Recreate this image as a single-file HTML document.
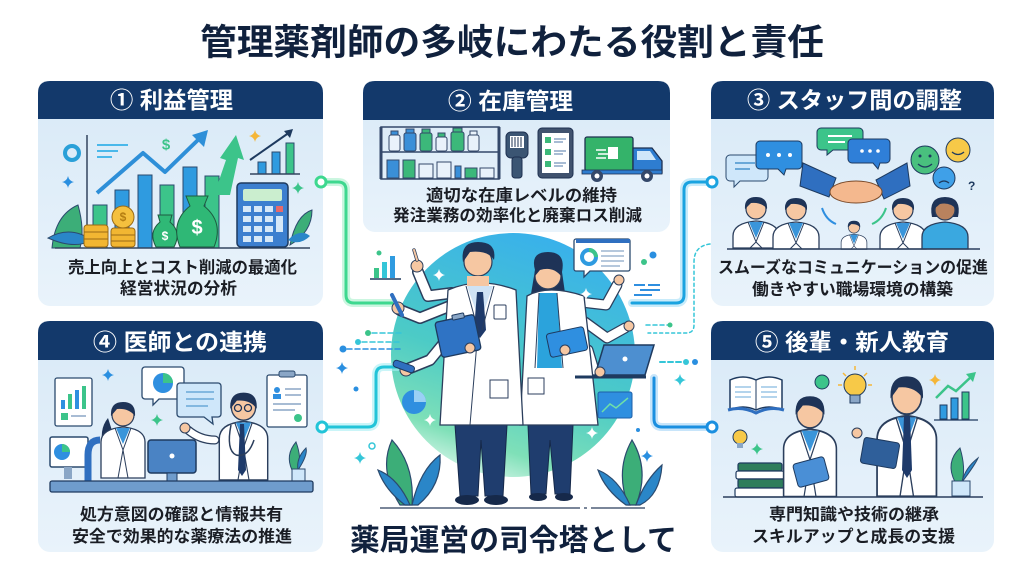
<!DOCTYPE html>
<html><head><meta charset="utf-8"><style>
html,body{margin:0;padding:0;background:#fff;}
svg{display:block}
text{font-family:"Liberation Sans","Noto Sans CJK JP",sans-serif;font-weight:bold}
</style></head><body>
<svg width="1024" height="572" viewBox="0 0 1024 572" xmlns="http://www.w3.org/2000/svg">
<defs>
 <linearGradient id="pb" x1="0" y1="0" x2="0" y2="1"><stop offset="0" stop-color="#d8e9f7"/><stop offset="1" stop-color="#e9f3fb"/></linearGradient>
 <linearGradient id="cg" x1="0.65" y1="0" x2="0.3" y2="1"><stop offset="0" stop-color="#38b0ec"/><stop offset="0.55" stop-color="#4ccbc6"/><stop offset="0.85" stop-color="#7fe0b8"/><stop offset="1" stop-color="#d8f6ea"/></linearGradient>
 <path id="st" d="M0-6Q1-1 6 0Q1 1 0 6Q-1 1-6 0Q-1-1 0-6Z"/>
 <g id="bust">
  <path d="M2 56 V44 Q2 31 25 29 Q48 31 48 44 V56 Z" fill="#fff" stroke="#2b3e5c" stroke-width="1.3"/>
  <path d="M18 30 L25 46 L32 30 Z" fill="#3a95da"/>
  <path d="M17 30 L25 50 L19 56 M33 30 L25 50 L31 56" fill="none" stroke="#2b3e5c" stroke-width="1"/>
  <circle cx="25" cy="17" r="10" fill="#f6c7a2" stroke="#2b3e5c" stroke-width="1.2"/>
  <path d="M14 17 Q13 5 25 5 Q37 5 36 17 Q31 10 20 11 Z" fill="#1e3357"/>
 </g>
 <g id="tall">
  <path d="M3 80 V44 Q3 31 25 29 Q47 31 47 44 V80 Z" fill="#fff" stroke="#2b3e5c" stroke-width="1.3"/>
  <path d="M18 30 L25 46 L32 30 Z" fill="#3a95da"/>
  <path d="M17 30 L25 52 L20 80 M33 30 L25 52 L30 80" fill="none" stroke="#2b3e5c" stroke-width="1"/>
  <circle cx="25" cy="17" r="11" fill="#f6c7a2" stroke="#2b3e5c" stroke-width="1.2"/>
  <path d="M13 18 Q12 4 25 4 Q38 4 37 18 Q31 10 19 11 Z" fill="#1e3357"/>
 </g>
</defs>

<!-- Title -->
<text x="512" y="42" font-size="36" text-anchor="middle" dominant-baseline="central" fill="#10213d" textLength="624" lengthAdjust="spacingAndGlyphs">管理薬剤師の多岐にわたる役割と責任</text>

<!-- Panels -->
<rect x="38" y="81" width="285" height="225" rx="12" fill="url(#pb)"/>
<path d="M38 119V93Q38 81 50 81H311Q323 81 323 93V119Z" fill="#13396b"/>
<rect x="363" y="81" width="307" height="151" rx="12" fill="url(#pb)"/>
<path d="M363 120V93Q363 81 375 81H658Q670 81 670 93V120Z" fill="#13396b"/>
<rect x="711" y="81" width="283" height="225" rx="12" fill="url(#pb)"/>
<path d="M711 119V93Q711 81 723 81H982Q994 81 994 93V119Z" fill="#13396b"/>
<rect x="38" y="321" width="285" height="231" rx="12" fill="url(#pb)"/>
<path d="M38 360V333Q38 321 50 321H311Q323 321 323 333V360Z" fill="#13396b"/>
<rect x="711" y="321" width="283" height="231" rx="12" fill="url(#pb)"/>
<path d="M711 360V333Q711 321 723 321H982Q994 321 994 333V360Z" fill="#13396b"/>

<!-- Header texts -->
<g font-size="23" fill="#fff" text-anchor="middle" dominant-baseline="central">
 <text x="171.5" y="100" textLength="123" lengthAdjust="spacingAndGlyphs">① 利益管理</text>
 <text x="510.5" y="101" textLength="125" lengthAdjust="spacingAndGlyphs">② 在庫管理</text>
 <text x="854.5" y="100" textLength="215" lengthAdjust="spacingAndGlyphs">③ スタッフ間の調整</text>
 <text x="180" y="342" textLength="174" lengthAdjust="spacingAndGlyphs">④ 医師との連携</text>
 <text x="852" y="342" textLength="194" lengthAdjust="spacingAndGlyphs">⑤ 後輩・新人教育</text>
</g>

<!-- Body texts -->
<g font-size="16.5" fill="#1a1d24" text-anchor="middle" dominant-baseline="central">
 <text x="182.5" y="268" textLength="229" lengthAdjust="spacingAndGlyphs">売上向上とコスト削減の最適化</text>
 <text x="178.5" y="289" textLength="117" lengthAdjust="spacingAndGlyphs">経営状況の分析</text>
 <text x="521.5" y="196" textLength="191" lengthAdjust="spacingAndGlyphs">適切な在庫レベルの維持</text>
 <text x="517.5" y="216" textLength="249" lengthAdjust="spacingAndGlyphs">発注業務の効率化と廃棄ロス削減</text>
 <text x="853" y="268" textLength="270" lengthAdjust="spacingAndGlyphs">スムーズなコミュニケーションの促進</text>
 <text x="852.5" y="290" textLength="201" lengthAdjust="spacingAndGlyphs">働きやすい職場環境の構築</text>
 <text x="181.5" y="515" textLength="203" lengthAdjust="spacingAndGlyphs">処方意図の確認と情報共有</text>
 <text x="182" y="537" textLength="220" lengthAdjust="spacingAndGlyphs">安全で効果的な薬療法の推進</text>
 <text x="854" y="515" textLength="170" lengthAdjust="spacingAndGlyphs">専門知識や技術の継承</text>
 <text x="853.5" y="537" textLength="203" lengthAdjust="spacingAndGlyphs">スキルアップと成長の支援</text>
</g>

<!-- Center text -->
<text x="513.5" y="541" font-size="30" fill="#10213d" text-anchor="middle" dominant-baseline="central" textLength="327" lengthAdjust="spacingAndGlyphs">薬局運営の司令塔として</text>

<!-- ===== Panel 1 illustration ===== -->
<g stroke="#2b4a6e" stroke-width="1">
 <path d="M52 248 Q55 215 78 205 Q85 230 80 248Z" fill="#3cae78"/>
 <path d="M48 238 Q70 225 92 240 Q75 250 48 238Z" fill="#2a86c8"/>
 <rect x="93" y="205" width="14" height="43" fill="#3cc48a"/>
 <rect x="115" y="190" width="14" height="58" fill="#2f9be0"/>
 <rect x="138" y="175" width="14" height="73" fill="#2f9be0"/>
 <rect x="160" y="185" width="14" height="63" fill="#3cc48a"/>
 <rect x="183" y="167" width="14" height="81" fill="#2f9be0"/>
 <rect x="205" y="176" width="14" height="72" fill="#3cc48a"/>
</g>
<line x1="87" y1="135" x2="87" y2="248" stroke="#33455f" stroke-width="1.5"/>
<line x1="55" y1="248" x2="310" y2="248" stroke="#33455f" stroke-width="1.5"/>
<polyline points="97,193 143,153 165,172 200,138" fill="none" stroke="#2e8fd8" stroke-width="4" stroke-linejoin="round"/>
<polygon points="208,130 192,135 204,147" fill="#2e8fd8"/>
<polygon points="214,195 226,160 220,158 236,135 244,160 238,158 230,195" fill="#3cc48a"/>
<polyline points="250,160 290,132" fill="none" stroke="#1e3a5f" stroke-width="2"/>
<polygon points="293,129 284,131 290,138" fill="#1e3a5f"/>
<g fill="#2f9be0" stroke="#2b4a6e" stroke-width="1">
 <rect x="258" y="162" width="8" height="12"/><rect x="272" y="152" width="8" height="22" fill="#2f9be0"/><rect x="286" y="143" width="8" height="31" fill="#3cc48a"/>
</g>
<line x1="250" y1="174" x2="300" y2="174" stroke="#33455f" stroke-width="1.5"/>
<circle cx="72" cy="153" r="7" fill="none" stroke="#2aa0d8" stroke-width="4"/>
<line x1="97" y1="145" x2="128" y2="145" stroke="#4ab8ea" stroke-width="2"/>
<line x1="97" y1="151" x2="118" y2="151" stroke="#4ab8ea" stroke-width="2"/>
<line x1="97" y1="157" x2="112" y2="157" stroke="#4ab8ea" stroke-width="2"/>
<text x="166" y="145" font-size="15" fill="#3cc48a" text-anchor="middle" dominant-baseline="central">$</text>
<use href="#st" x="68" y="182" fill="#2a8fe0"/>
<use href="#st" x="255" y="136" fill="#f5b638"/>
<use href="#st" x="298" y="188" fill="#3cc48a"/>
<!-- coins -->
<g fill="#f2b632" stroke="#9a6a15" stroke-width="1">
 <rect x="84" y="225" width="24" height="22" rx="3"/>
 <rect x="111" y="228" width="24" height="19" rx="3"/>
</g>
<g stroke="#9a6a15" stroke-width="1"><line x1="84" y1="232" x2="108" y2="232"/><line x1="84" y1="239" x2="108" y2="239"/><line x1="111" y1="235" x2="135" y2="235"/><line x1="111" y1="241" x2="135" y2="241"/></g>
<circle cx="123" cy="217" r="11" fill="#f4c03e" stroke="#9a6a15"/>
<text x="123" y="217" font-size="12" fill="#b57e12" text-anchor="middle" dominant-baseline="central">$</text>
<!-- money bags -->
<path d="M156 247 Q148 232 160 222 L158 215 L172 215 L170 222 Q182 232 174 247Z" fill="#2fb876" stroke="#1e5a40"/>
<text x="165" y="236" font-size="12" fill="#fff" text-anchor="middle" dominant-baseline="central">$</text>
<path d="M180 247 Q170 222 190 206 L186 196 L208 196 L204 206 Q224 222 214 247Z" fill="#2fb876" stroke="#1e5a40"/>
<text x="197" y="228" font-size="20" fill="#fff" text-anchor="middle" dominant-baseline="central">$</text>
<!-- calculator -->
<rect x="237" y="183" width="51" height="64" rx="4" fill="#3c7fcf" stroke="#1e3a5f" stroke-width="1.5"/>
<rect x="243" y="189" width="39" height="12" rx="2" fill="#cbeecf"/>
<g fill="#d6e8f8">
 <rect x="243" y="206" width="8" height="6"/><rect x="254" y="206" width="8" height="6"/><rect x="265" y="206" width="8" height="6"/><rect x="276" y="206" width="7" height="6" fill="#e76a6a"/>
 <rect x="243" y="216" width="8" height="6"/><rect x="254" y="216" width="8" height="6"/><rect x="265" y="216" width="8" height="6"/><rect x="276" y="216" width="7" height="16"/>
 <rect x="243" y="226" width="8" height="6"/><rect x="254" y="226" width="8" height="6"/><rect x="265" y="226" width="8" height="6"/>
 <rect x="243" y="236" width="8" height="6"/><rect x="254" y="236" width="8" height="6"/><rect x="265" y="236" width="8" height="6"/>
</g>
<path d="M290 245 Q296 215 312 210 Q312 232 290 245Z" fill="#3cae78" stroke="#2b4a6e"/>
<path d="M288 240 Q300 228 310 236 Q300 246 288 240Z" fill="#2a86c8"/>

<!-- ===== Panel 2 illustration ===== -->
<g stroke="#34486a" stroke-width="1.5" fill="none">
 <rect x="381" y="127" width="118" height="52"/>
 <line x1="381" y1="152" x2="499" y2="152"/>
 <line x1="381" y1="127" x2="381" y2="179" stroke-width="3"/>
 <line x1="499" y1="127" x2="499" y2="179" stroke-width="3"/>
</g>
<g stroke="#34486a" stroke-width="1">
 <rect x="389" y="135" width="11" height="16" rx="2" fill="#e9f2fb"/><rect x="391" y="131" width="7" height="4" fill="#3a8fd8"/>
 <rect x="404" y="133" width="12" height="18" rx="2" fill="#3a8fd8"/><rect x="406" y="129" width="8" height="4" fill="#3a8fd8"/>
 <rect x="420" y="133" width="12" height="18" rx="2" fill="#3cb87a"/><rect x="422" y="129" width="8" height="4" fill="#3cb87a"/>
 <rect x="436" y="137" width="11" height="14" rx="2" fill="#e9f2fb"/><rect x="438" y="133" width="7" height="4" fill="#3cb87a"/>
 <rect x="451" y="132" width="13" height="19" rx="2" fill="#3cb87a"/><rect x="453" y="128" width="9" height="4" fill="#3cb87a"/>
 <rect x="468" y="135" width="11" height="16" rx="2" fill="#e9f2fb"/><rect x="470" y="131" width="7" height="4" fill="#e9f2fb"/>
 <rect x="387" y="160" width="12" height="18" fill="#3a8fd8"/><rect x="403" y="160" width="12" height="18" fill="#3cb87a"/>
 <rect x="419" y="164" width="14" height="14" fill="#e9f2fb"/><rect x="437" y="162" width="14" height="16" fill="#e9f2fb"/>
 <rect x="455" y="166" width="6" height="12" fill="#3a8fd8"/><rect x="465" y="168" width="12" height="10" fill="#3cb87a"/><rect x="480" y="168" width="14" height="10" fill="#e9f2fb"/>
</g>
<rect x="506" y="132" width="22" height="26" rx="5" fill="#3b5573" stroke="#1e3050"/>
<rect x="510" y="136" width="14" height="12" fill="#fff"/>
<g stroke="#1e3050" stroke-width="1"><line x1="512" y1="137" x2="512" y2="147"/><line x1="515" y1="137" x2="515" y2="147"/><line x1="518" y1="137" x2="518" y2="147"/><line x1="521" y1="137" x2="521" y2="147"/></g>
<rect x="512" y="157" width="10" height="21" rx="3" fill="#3b5573" stroke="#1e3050"/>
<rect x="538" y="128" width="35" height="50" rx="4" fill="#40526e" stroke="#1e3050"/>
<rect x="542" y="133" width="27" height="40" fill="#fff"/>
<g fill="#3cb87a"><rect x="545" y="137" width="6" height="6"/><rect x="545" y="149" width="6" height="6"/><rect x="545" y="161" width="6" height="6"/></g>
<g stroke="#8aa6c6" stroke-width="1.5"><line x1="554" y1="139" x2="566" y2="139"/><line x1="554" y1="142" x2="563" y2="142"/><line x1="554" y1="151" x2="566" y2="151"/><line x1="554" y1="154" x2="563" y2="154"/><line x1="554" y1="163" x2="566" y2="163"/><line x1="554" y1="166" x2="563" y2="166"/></g>
<rect x="585" y="137" width="48" height="34" rx="2" fill="#34b36a" stroke="#1e3050" stroke-width="1.3"/>
<g stroke="#fff" stroke-width="1.5"><line x1="596" y1="150" x2="606" y2="150"/><line x1="598" y1="154" x2="608" y2="154"/><line x1="596" y1="158" x2="606" y2="158"/></g>
<rect x="608" y="147" width="10" height="12" fill="#fff"/>
<path d="M633 148 H652 L662 161 V173 H633Z" fill="#2e7dd0" stroke="#1e3050" stroke-width="1.3"/>
<path d="M637 151 H650 L656 160 H637Z" fill="#cfe7fa"/>
<rect x="582" y="170" width="80" height="4" fill="#2e7dd0" stroke="#1e3050" stroke-width="0.8"/>
<circle cx="597" cy="176" r="6" fill="#34486a"/><circle cx="597" cy="176" r="2.5" fill="#fff"/>
<circle cx="647" cy="176" r="6" fill="#34486a"/><circle cx="647" cy="176" r="2.5" fill="#fff"/>

<!-- ===== Panel 3 illustration ===== -->
<path d="M730 155 h34 a4 4 0 0 1 4 4 v18 a4 4 0 0 1 -4 4 h-24 l-6 6 v-6 h-4 a4 4 0 0 1 -4 -4 v-18 a4 4 0 0 1 4 -4z" fill="#cfe7fa" stroke="#2b4a6e"/>
<line x1="735" y1="163" x2="755" y2="163" stroke="#6aa8d8" stroke-width="2"/><line x1="735" y1="169" x2="750" y2="169" stroke="#6aa8d8" stroke-width="2"/>
<path d="M760 141 h38 a4 4 0 0 1 4 4 v20 a4 4 0 0 1 -4 4 h-12 l-2 6 l-6 -6 h-18 a4 4 0 0 1 -4 -4 v-20 a4 4 0 0 1 4 -4z" fill="#2f8fe0" stroke="#1e3a5f"/>
<circle cx="768" cy="155" r="2" fill="#fff"/><circle cx="779" cy="155" r="2" fill="#fff"/><circle cx="790" cy="155" r="2" fill="#fff"/>
<path d="M821 128 h38 a4 4 0 0 1 4 4 v14 a4 4 0 0 1 -4 4 h-26 l-6 5 v-5 h-6 a4 4 0 0 1 -4 -4 v-14 a4 4 0 0 1 4 -4z" fill="#3cc48a" stroke="#1e3a5f"/>
<line x1="828" y1="136" x2="852" y2="136" stroke="#fff" stroke-width="2"/><line x1="828" y1="142" x2="845" y2="142" stroke="#fff" stroke-width="2"/>
<path d="M852 139 h34 a4 4 0 0 1 4 4 v16 a4 4 0 0 1 -4 4 h-6 l-2 6 l-5 -6 h-21 a4 4 0 0 1 -4 -4 v-16 a4 4 0 0 1 4 -4z" fill="#2f7fd8" stroke="#1e3a5f"/>
<circle cx="862" cy="151" r="1.8" fill="#fff"/><circle cx="870" cy="151" r="1.8" fill="#fff"/><circle cx="878" cy="151" r="1.8" fill="#fff"/>
<polygon points="803,163 836,178 829,197 800,186" fill="#2f6fc0" stroke="#1e3a5f"/>
<polygon points="907,163 876,180 884,199 910,186" fill="#2f6fc0" stroke="#1e3a5f"/>
<ellipse cx="856" cy="192" rx="26" ry="11" fill="#f4b88e" stroke="#7a4a2a"/>
<circle cx="925" cy="160" r="14" fill="#49c07e" stroke="#1e3a5f"/>
<circle cx="920" cy="156" r="1.5" fill="#1e3a5f"/><circle cx="930" cy="156" r="1.5" fill="#1e3a5f"/><path d="M918 164 Q925 170 932 164" fill="none" stroke="#1e3a5f" stroke-width="1.3"/>
<circle cx="958" cy="150" r="12" fill="#f7c948" stroke="#1e3a5f"/>
<path d="M952 152 Q958 157 964 152" fill="none" stroke="#1e3a5f" stroke-width="1.3"/>
<circle cx="944" cy="178" r="11" fill="#3fa0e8" stroke="#1e3a5f"/>
<path d="M939 183 Q944 179 949 183" fill="none" stroke="#1e3a5f" stroke-width="1.3"/>
<text x="968" y="190" font-size="12" fill="#1e3a5f">?</text>
<path d="M822 208 Q826 220 836 224" fill="none" stroke="#2f8fe0" stroke-width="2"/>
<path d="M886 208 Q882 220 872 224" fill="none" stroke="#3cc48a" stroke-width="2"/>
<use href="#bust" x="731" y="192"/>
<use href="#bust" x="771" y="193"/>
<use href="#bust" transform="translate(840,218) scale(0.56)"/>
<use href="#bust" x="878" y="193"/>
<g transform="translate(920,193)">
 <path d="M2 56 V44 Q2 31 25 29 Q48 31 48 44 V56 Z" fill="#3aa8e0" stroke="#2b3e5c" stroke-width="1.3"/>
 <path d="M12 24 Q8 4 25 4 Q42 4 38 24 Z" fill="#1e3357"/>
 <circle cx="25" cy="17" r="10" fill="#b9825e" stroke="#2b3e5c" stroke-width="1.2"/>
 <path d="M14 16 Q14 5 25 5 Q36 5 36 16 Q30 9 20 11 Z" fill="#1e3357"/>
</g>
<line x1="727" y1="249" x2="980" y2="249" stroke="#2b3e5c" stroke-width="1.5"/>

<!-- ===== Panel 4 illustration ===== -->
<rect x="55" y="378" width="37" height="48" rx="2" fill="#fff" stroke="#2b4a6e" stroke-width="1.3"/>
<g fill="#2f8fe0"><rect x="61" y="400" width="4" height="9"/><rect x="68" y="394" width="4" height="15" fill="#3cc48a"/><rect x="75" y="390" width="4" height="19"/><rect x="82" y="386" width="4" height="23" fill="#3cc48a"/></g>
<rect x="61" y="413" width="7" height="7" fill="#3cc48a"/><line x1="71" y1="416" x2="86" y2="416" stroke="#8aa6c6" stroke-width="1.5"/>
<rect x="50" y="437" width="38" height="30" rx="2" fill="#fff" stroke="#2b4a6e" stroke-width="1.5"/>
<circle cx="62" cy="452" r="8" fill="#2f8fe0"/><path d="M62 452 V444 A8 8 0 0 1 70 452Z" fill="#3cc48a"/>
<rect x="64" y="467" width="8" height="12" fill="#8aa6c6"/>
<path d="M88 483 V455 Q88 440 100 440" fill="none" stroke="#2f6fc0" stroke-width="7"/>
<path d="M108 418 Q98 430 104 450 L115 440Z" fill="#1e3357"/>
<use href="#tall" x="98" y="398"/>
<path d="M145 367 h36 a3 3 0 0 1 3 3 v26 a3 3 0 0 1 -3 3 h-22 l-6 6 v-6 h-8 a3 3 0 0 1 -3 -3 v-26 a3 3 0 0 1 3 -3z" fill="#fff" stroke="#2b4a6e" stroke-width="1.3"/>
<circle cx="163" cy="383" r="10" fill="#2f8fe0"/><path d="M163 383 V373 A10 10 0 0 1 173 383Z" fill="#3cc48a"/>
<path d="M180 383 h38 a3 3 0 0 1 3 3 v28 a3 3 0 0 1 -3 3 h-6 l1 7 l-9 -7 h-24 a3 3 0 0 1 -3 -3 v-28 a3 3 0 0 1 3 -3z" fill="#cfe7fa" stroke="#2b4a6e" stroke-width="1.3"/>
<g stroke="#6aa8d8" stroke-width="1.5"><line x1="186" y1="392" x2="214" y2="392"/><line x1="186" y1="399" x2="214" y2="399"/><line x1="186" y1="406" x2="208" y2="406"/></g>
<use href="#st" x="108" y="375" fill="#2a8fe0"/>
<use href="#st" x="157" y="420" fill="#3cc48a"/>
<use href="#tall" transform="translate(216,388) scale(1.1,1.15)"/>
<path d="M240 424 L244 424 L246 470 L242 476 L238 470Z" fill="#1e3a6a"/>
<path d="M231 425 Q226 450 236 455 M236 455 Q248 458 254 440" fill="none" stroke="#2b3e5c" stroke-width="1.5"/>
<circle cx="243" cy="406" r="0" />
<g fill="none" stroke="#1e3357" stroke-width="1.3"><circle cx="238" cy="408" r="3.5"/><circle cx="248" cy="408" r="3.5"/></g>
<path d="M215 440 Q200 440 188 430" fill="none" stroke="#2b3e5c" stroke-width="9" stroke-linecap="round"/>
<path d="M215 440 Q200 440 188 430" fill="none" stroke="#fff" stroke-width="6.5" stroke-linecap="round"/>
<circle cx="185" cy="428" r="5" fill="#f6c7a2" stroke="#2b3e5c"/>
<rect x="148" y="440" width="48" height="33" rx="3" fill="#4a83c4" stroke="#1e3a5f" stroke-width="1.5"/>
<circle cx="172" cy="456" r="2.5" fill="#fff"/>
<rect x="167" y="473" width="10" height="9" fill="#6f9ccc" stroke="#1e3a5f"/>
<rect x="267" y="375" width="40" height="52" rx="2" fill="#fff" stroke="#2b4a6e" stroke-width="1.3"/>
<rect x="279" y="371" width="16" height="6" rx="2" fill="#8aa6c6" stroke="#2b4a6e"/>
<circle cx="277" cy="390" r="3" fill="#2f8fe0"/><rect x="273" y="394" width="8" height="5" fill="#2f8fe0"/>
<g stroke="#8aa6c6" stroke-width="1.5"><line x1="285" y1="389" x2="301" y2="389"/><line x1="285" y1="395" x2="301" y2="395"/><line x1="273" y1="404" x2="301" y2="404"/><line x1="273" y1="410" x2="295" y2="410"/></g>
<circle cx="298" cy="418" r="4" fill="#3cc48a"/>
<path d="M292 470 Q285 455 296 442 Q302 458 298 470Z" fill="#3cae78" stroke="#2b4a6e"/>
<path d="M298 470 Q308 455 306 448 Q296 458 298 470Z" fill="#2a86c8" stroke="#2b4a6e"/>
<rect x="292" y="469" width="13" height="13" fill="#cfe7fa" stroke="#2b4a6e"/>
<rect x="50" y="481" width="263" height="11" rx="2" fill="#6f9ccc" stroke="#1e3a5f" stroke-width="1.3"/>

<!-- ===== Panel 5 illustration ===== -->
<path d="M730 380 Q743 374 756 380 Q769 374 782 380 V410 Q769 404 756 410 Q743 404 730 410Z" fill="#fff" stroke="#1e3a5f" stroke-width="1.5"/>
<path d="M728 410 Q742 406 756 413 Q770 406 784 410" fill="none" stroke="#2f6fc0" stroke-width="3"/>
<line x1="756" y1="380" x2="756" y2="410" stroke="#1e3a5f"/>
<g stroke="#6aa8d8" stroke-width="1"><line x1="735" y1="387" x2="751" y2="387"/><line x1="735" y1="392" x2="751" y2="392"/><line x1="735" y1="397" x2="751" y2="397"/><line x1="761" y1="387" x2="777" y2="387"/><line x1="761" y1="392" x2="777" y2="392"/><line x1="761" y1="397" x2="777" y2="397"/></g>
<circle cx="822" cy="382" r="7" fill="#3cc48a" stroke="#1e3a5f"/>
<circle cx="855" cy="385" r="11" fill="#f7c948" stroke="#1e3a5f"/>
<rect x="850" y="395" width="10" height="8" fill="#8aa6c6" stroke="#1e3a5f"/>
<g stroke="#f5b638" stroke-width="1.5"><line x1="855" y1="366" x2="855" y2="370"/><line x1="838" y1="385" x2="842" y2="385"/><line x1="868" y1="385" x2="872" y2="385"/><line x1="843" y1="373" x2="846" y2="376"/><line x1="867" y1="373" x2="864" y2="376"/></g>
<use href="#st" x="935" y="380" fill="#f5b638"/>
<g fill="#2f9be0" stroke="#1e3a5f" stroke-width="1"><rect x="940" y="405" width="7" height="14"/><rect x="951" y="398" width="7" height="21"/><rect x="962" y="392" width="7" height="27" fill="#3cc48a"/></g>
<polyline points="936,398 948,386 956,391 972,376" fill="none" stroke="#3cc48a" stroke-width="2.5"/>
<polygon points="976,372 966,374 973,382" fill="#3cc48a"/>
<line x1="934" y1="420" x2="978" y2="420" stroke="#1e3a5f" stroke-width="1.3"/>
<circle cx="740" cy="437" r="7" fill="#f7c948" stroke="#1e3a5f"/>
<rect x="737" y="443" width="6" height="5" fill="#8aa6c6"/>
<use href="#st" x="757" y="449" fill="#3cc48a"/>
<g stroke="#1e3a5f" stroke-width="1.2">
 <rect x="738" y="463" width="44" height="8" rx="2" fill="#2e7d5b"/>
 <rect x="736" y="471" width="48" height="8" rx="2" fill="#fff"/>
 <rect x="738" y="479" width="46" height="9" rx="2" fill="#2e7d5b"/>
 <rect x="735" y="488" width="50" height="9" rx="2" fill="#fff"/>
</g>
<use href="#tall" transform="translate(780,391) scale(1.2,1.32)"/>
<rect x="795" y="460" width="32" height="24" rx="3" fill="#4a8fd6" stroke="#1e3a5f" transform="rotate(-15 811 472)"/>
<use href="#tall" transform="translate(873,370) scale(1.35,1.58)"/>
<path d="M904 416 L910 416 L912 470 L907 478 L902 470Z" fill="#1e3a6a"/>
<rect x="862" y="440" width="36" height="26" rx="3" fill="#2f5f9a" stroke="#1e3a5f" transform="rotate(10 880 453)"/>
<circle cx="857" cy="433" r="5" fill="#f6c7a2" stroke="#2b3e5c"/>
<path d="M955 482 Q945 462 960 448 Q966 468 962 482Z" fill="#3cae78" stroke="#2b4a6e"/>
<path d="M962 482 Q975 465 978 458 Q965 468 962 482Z" fill="#2a86c8" stroke="#2b4a6e"/>
<rect x="952" y="481" width="18" height="15" fill="#cfe7fa" stroke="#2b4a6e"/>
<line x1="723" y1="497" x2="983" y2="497" stroke="#2b3e5c" stroke-width="1.5"/>

<!-- ===== Center illustration ===== -->
<circle cx="513" cy="355" r="122" fill="url(#cg)"/>
<!-- connectors -->
<g fill="none" stroke-linecap="round">
 <path d="M326 182 H338 Q346 182 346 190 V295 Q346 303 354 303 H392" stroke="#a8f0cc" stroke-width="8" opacity="0.6"/>
 <path d="M326 182 H338 Q346 182 346 190 V295 Q346 303 354 303 H392" stroke="#3ed88f" stroke-width="3"/>
 <path d="M707 182 H692 Q684 182 684 190 V295 Q684 303 676 303 H632" stroke="#a4def6" stroke-width="8" opacity="0.6"/>
 <path d="M707 182 H692 Q684 182 684 190 V295 Q684 303 676 303 H632" stroke="#1aa3e0" stroke-width="3"/>
 <path d="M327 427 H368 Q376 427 376 419 V375 Q376 367 384 367 H398" stroke="#a6eef4" stroke-width="8" opacity="0.6"/>
 <path d="M327 427 H368 Q376 427 376 419 V375 Q376 367 384 367 H398" stroke="#22c4d8" stroke-width="3"/>
 <path d="M707 427 H662 Q654 427 654 419 V378" stroke="#a4d4f6" stroke-width="8" opacity="0.6"/>
 <path d="M707 427 H662 Q654 427 654 419 V378" stroke="#1a8fe0" stroke-width="3"/>
 <path d="M710 244 Q694 246 694 262 V325 Q694 333 686 333 H648" stroke="#35c6d8" stroke-width="1.5" stroke-dasharray="3 3"/>
 <path d="M646 325 H668" stroke="#35c6d8" stroke-width="1.5" stroke-dasharray="4 3"/>
 <path d="M660 362 H684" stroke="#35c6d8" stroke-width="2" stroke-dasharray="5 3"/>
 <path d="M372 333 H402" stroke="#35c6d8" stroke-width="1.5" stroke-dasharray="5 3"/>
 <path d="M362 342 H402" stroke="#35c6d8" stroke-width="1.5" stroke-dasharray="5 3"/>
 <path d="M347 349 H400" stroke="#2a8fe0" stroke-width="1.5" stroke-dasharray="5 3"/>
</g>
<circle cx="321" cy="182" r="5" fill="#fff" stroke="#3ed88f" stroke-width="3"/>
<circle cx="712" cy="182" r="5" fill="#fff" stroke="#1aa3e0" stroke-width="3"/>
<circle cx="322" cy="427" r="5" fill="#fff" stroke="#22c4d8" stroke-width="3"/>
<circle cx="712" cy="427" r="5" fill="#fff" stroke="#1a8fe0" stroke-width="3"/>
<circle cx="670" cy="325" r="2.5" fill="#3cc48a"/>
<circle cx="686" cy="362" r="3" fill="#35c6d8"/><circle cx="695" cy="362" r="3" fill="#2a8fe0"/>
<circle cx="368" cy="333" r="3" fill="#3cc48a"/><circle cx="358" cy="342" r="3" fill="#35c6d8"/><circle cx="343" cy="349" r="3.5" fill="#2a8fe0"/>
<use href="#st" x="342" y="368" fill="#2a8fe0"/>
<circle cx="356" cy="389" r="2.5" fill="#2a8fe0"/>
<use href="#st" x="680" y="380" fill="#35c6d8"/>
<use href="#st" x="360" y="458" fill="#35c6d8"/>
<circle cx="372" cy="446" r="3" fill="none" stroke="#35c6d8" stroke-width="1.5"/>
<use href="#st" x="647" y="456" fill="#2a8fe0"/>
<circle cx="638" cy="430" r="2" fill="#2a8fe0"/>
<!-- floating small chart -->
<g fill="#2f9be0"><rect x="374" y="268" width="5" height="10" fill="#3cc48a"/><rect x="382" y="262" width="5" height="16" fill="#35c6d8"/><rect x="390" y="256" width="5" height="22"/></g>
<line x1="370" y1="279" x2="401" y2="279" stroke="#1e3a5f" stroke-width="1.5"/>
<circle cx="379" cy="253" r="2.5" fill="#3cc48a"/>
<!-- floating screen -->
<path d="M576 239 h52 a2 2 0 0 1 2 2 v28 a2 2 0 0 1 -2 2 h-38 l-6 6 v-6 h-8 a2 2 0 0 1 -2 -2 v-28 a2 2 0 0 1 2 -2z" fill="#fff" stroke="#2b4a6e" stroke-width="1.3"/>
<rect x="576" y="239" width="54" height="4" fill="#2f6fc0"/>
<circle cx="589" cy="257" r="7" fill="none" stroke="#2f9be0" stroke-width="4"/>
<path d="M589 250 A7 7 0 0 1 596 257" fill="none" stroke="#3cc48a" stroke-width="4"/>
<g stroke="#8aa6c6" stroke-width="1.3"><line x1="601" y1="251" x2="624" y2="251"/><line x1="601" y1="256" x2="624" y2="256"/><line x1="601" y1="261" x2="624" y2="261"/><line x1="601" y1="266" x2="620" y2="266"/></g>
<g stroke="#2f8fe0" stroke-width="2"><line x1="634" y1="285" x2="645" y2="285"/><line x1="648" y1="285" x2="660" y2="285"/><line x1="640" y1="290" x2="660" y2="290"/><line x1="634" y1="295" x2="652" y2="295"/></g>
<circle cx="653" cy="255" r="3.5" fill="#2a8fe0"/><circle cx="644" cy="262" r="3" fill="#3cc48a"/>
<!-- pie & chart screen -->
<circle cx="414" cy="402" r="12" fill="#2f8fe0"/><path d="M414 402 V390 A12 12 0 0 1 426 402Z" fill="#9ad0f5"/>
<rect x="598" y="392" width="34" height="26" rx="2" fill="#2f8fe0" stroke="#1e5fa8"/>
<polyline points="602,412 610,404 616,408 628,398" fill="none" stroke="#6fe0a8" stroke-width="1.5"/>
<!-- plants -->
<path d="M400 505 Q378 470 392 440 Q415 465 412 505Z" fill="#3cae78" stroke="#2b4a6e" stroke-width="1.2"/>
<path d="M412 505 Q420 470 440 455 Q442 485 418 505Z" fill="#2a86c8" stroke="#2b4a6e" stroke-width="1.2"/>
<path d="M405 505 Q385 490 378 470 Q398 478 410 505Z" fill="#2a86c8" stroke="#2b4a6e" stroke-width="1.2"/>
<path d="M628 505 Q615 470 632 440 Q650 470 636 505Z" fill="#3cae78" stroke="#2b4a6e" stroke-width="1.2"/>
<path d="M636 505 Q645 480 662 465 Q660 495 640 505Z" fill="#2a86c8" stroke="#2b4a6e" stroke-width="1.2"/>
<path d="M626 505 Q605 490 598 470 Q618 478 630 505Z" fill="#2a86c8" stroke="#2b4a6e" stroke-width="1.2"/>
<line x1="380" y1="508" x2="645" y2="508" stroke="#2b3e5c" stroke-width="1.3" stroke-dasharray="200 4 3 4"/>

<!-- woman (behind) -->
<g stroke-linejoin="round" stroke-linecap="round">
 <path d="M535 270 Q530 252 548 252 Q566 252 562 272 L566 300 L530 300Z" fill="#1e3357"/>
 <polyline points="580,302 606,305 617,285" fill="none" stroke="#2b3e5c" stroke-width="11"/>
 <polyline points="580,302 606,305 617,285" fill="none" stroke="#fff" stroke-width="8.5"/>
 <polyline points="585,322 607,338 625,328" fill="none" stroke="#2b3e5c" stroke-width="11"/>
 <polyline points="585,322 607,338 625,328" fill="none" stroke="#fff" stroke-width="8.5"/>
 <polyline points="588,350 594,370 603,373" fill="none" stroke="#2b3e5c" stroke-width="11"/>
 <polyline points="588,350 594,370 603,373" fill="none" stroke="#fff" stroke-width="8.5"/>
</g>
<circle cx="619" cy="280" r="5" fill="#f6c7a2" stroke="#2b3e5c"/>
<circle cx="629" cy="326" r="5" fill="#f6c7a2" stroke="#2b3e5c"/>
<path d="M528 425 L531 494 L546 494 L550 440 L555 494 L570 494 L573 425Z" fill="#1f3d6e" stroke="#16294a"/>
<ellipse cx="538" cy="497" rx="9" ry="4" fill="#16294a"/><ellipse cx="564" cy="497" rx="9" ry="4" fill="#16294a"/>
<path d="M527 296 Q548 284 584 296 L598 425 L520 425Z" fill="#fff" stroke="#2b3e5c" stroke-width="1.3"/>
<path d="M539 293 L557 293 L562 368 L537 368Z" fill="#2ba3dc"/>
<path d="M539 293 L535 368 M557 293 L563 368" fill="none" stroke="#2b3e5c" stroke-width="1"/>
<rect x="528" y="378" width="16" height="16" fill="none" stroke="#2b3e5c" stroke-width="1"/>
<circle cx="548" cy="276" r="13" fill="#f6c7a2" stroke="#2b3e5c" stroke-width="1.2"/>
<path d="M535 276 Q533 260 548 260 Q563 260 561 276 Q553 266 540 270Z" fill="#1e3357"/>
<rect x="548" y="330" width="38" height="24" rx="3" fill="#2f8fe0" stroke="#1e3a5f" transform="rotate(-12 567 342)"/>
<circle cx="565" cy="350" r="5" fill="#f6c7a2" stroke="#2b3e5c"/>
<path d="M604 345 H654 L645 375 H595Z" fill="#4d8fd0" stroke="#1e3a5f" stroke-width="1.5"/>
<circle cx="625" cy="359" r="2.5" fill="#fff"/>
<line x1="575" y1="377" x2="646" y2="377" stroke="#1e3a5f" stroke-width="3"/>
<circle cx="600" cy="372" r="5" fill="#f6c7a2" stroke="#2b3e5c"/>

<!-- man (front) -->
<g stroke-linejoin="round" stroke-linecap="round">
 <polyline points="452,293 428,296 418,272" fill="none" stroke="#2b3e5c" stroke-width="12"/>
 <polyline points="452,293 428,296 418,272" fill="none" stroke="#fff" stroke-width="9"/>
 <polyline points="450,306 420,318 400,310" fill="none" stroke="#2b3e5c" stroke-width="12"/>
 <polyline points="450,306 420,318 400,310" fill="none" stroke="#fff" stroke-width="9"/>
 <polyline points="448,338 430,360 410,368" fill="none" stroke="#2b3e5c" stroke-width="12"/>
 <polyline points="448,338 430,360 410,368" fill="none" stroke="#fff" stroke-width="9"/>
</g>
<circle cx="417" cy="266" r="6" fill="#f6c7a2" stroke="#2b3e5c"/>
<line x1="417" y1="260" x2="414" y2="250" stroke="#2b3e5c" stroke-width="3.5" stroke-linecap="round"/>
<line x1="417" y1="260" x2="414" y2="250" stroke="#f6c7a2" stroke-width="2" stroke-linecap="round"/>
<circle cx="398" cy="308" r="6" fill="#f6c7a2" stroke="#2b3e5c"/>
<line x1="392" y1="295" x2="402" y2="315" stroke="#2f6fc0" stroke-width="4" stroke-linecap="round"/>
<circle cx="406" cy="370" r="6" fill="#f6c7a2" stroke="#2b3e5c"/>
<rect x="393" y="363" width="22" height="7" rx="3" fill="#2f6fc0" stroke="#1e3a5f" transform="rotate(20 404 366)"/>
<path d="M455 425 L460 496 L478 496 L481 440 L485 496 L503 496 L507 425Z" fill="#1f3d6e" stroke="#16294a"/>
<ellipse cx="467" cy="500" rx="12" ry="5" fill="#16294a"/><ellipse cx="496" cy="500" rx="12" ry="5" fill="#16294a"/>
<path d="M448 290 Q480 276 516 290 L523 425 L440 425Z" fill="#fff" stroke="#2b3e5c" stroke-width="1.3"/>
<path d="M467 286 L480 322 L493 286Z" fill="#cfe3f5"/>
<path d="M477 292 L483 292 L486 330 L480 338 L474 330Z" fill="#1e3a6a"/>
<path d="M466 286 L478 330 L470 425 M494 286 L482 330" fill="none" stroke="#2b3e5c" stroke-width="1"/>
<rect x="494" y="305" width="12" height="14" rx="1" fill="#fff" stroke="#2b3e5c"/>
<rect x="490" y="380" width="18" height="18" fill="none" stroke="#2b3e5c"/>
<circle cx="478" cy="262" r="14" fill="#f6c7a2" stroke="#2b3e5c" stroke-width="1.2"/>
<path d="M463 262 Q460 242 478 242 Q497 242 494 260 Q488 250 470 252Z" fill="#1e3357"/>
<rect x="467" y="276" width="22" height="10" fill="#f6c7a2"/>
<rect x="438" y="318" width="40" height="36" rx="3" fill="#2f73c4" stroke="#1e3a5f" stroke-width="1.3" transform="rotate(-12 458 336)"/>
<rect x="452" y="314" width="12" height="5" rx="1" fill="#8aa6c6" stroke="#1e3a5f" transform="rotate(-12 458 316)"/>
<circle cx="470" cy="348" r="5" fill="#f6c7a2" stroke="#2b3e5c"/>
<use href="#st" x="439" y="275" fill="#fff"/>
<use href="#st" x="586" y="294" fill="#fff"/>
<use href="#st" x="430" y="420" fill="#fff"/>
<use href="#st" x="592" y="433" fill="#fff"/>
</svg>
</body></html>
